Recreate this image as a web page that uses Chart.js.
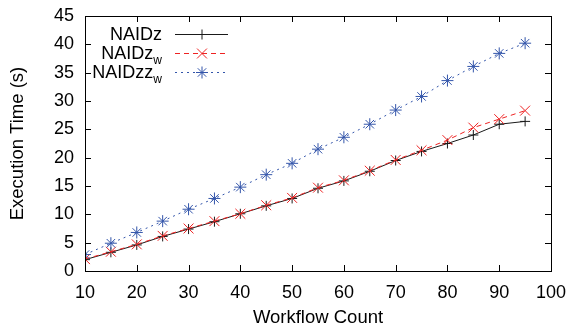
<!DOCTYPE html>
<html><head><meta charset="utf-8">
<script src="https://cdn.jsdelivr.net/npm/chart.js@4.4.1/dist/chart.umd.min.js"></script>
<style>html,body{margin:0;padding:0;background:#fff}#wrap{width:569px;height:329px}</style>
</head><body><div id="wrap"><canvas id="c" width="569" height="329"></canvas></div>
<script>
const workflowCounts = [10,15,20,25,30,35,40,45,50,55,60,65,70,75,80,85,90,95];
const naidz   = [2.0,3.3,4.6,6.1,7.4,8.7,10.1,11.5,12.8,14.6,15.9,17.6,19.5,21.1,22.5,24.0,25.9,26.4];
const naidzW  = [2.1,3.4,4.7,6.2,7.5,8.8,10.1,11.6,12.9,14.7,16.0,17.7,19.6,21.3,23.1,25.3,26.8,28.3];
const naidzzW = [2.9,4.9,6.8,8.8,10.9,12.8,14.8,17.0,19.0,21.5,23.6,25.9,28.4,30.8,33.6,36.1,38.4,40.2];
const legendNames = [["NAIDz",""],["NAIDz","w"],["NAIDzz","w"]];
const FONT = "'Liberation Sans', Arial, sans-serif";

const pts = arr => workflowCounts.map((x,i)=>({x:x,y:arr[i]}));
const colors = ['#1a1a1a','#ee2222','#3355aa'];

const framePlugin = {
  id:'frame',
  afterDraw(chart){
    const ctx = chart.ctx, a = chart.chartArea;
    const xs = chart.scales.x, ys = chart.scales.y;
    ctx.save();
    ctx.strokeStyle = '#000'; ctx.lineWidth = 1;
    ctx.strokeRect(Math.round(a.left)+0.5, Math.round(a.top)+0.5, Math.round(a.right-a.left), Math.round(a.bottom-a.top));
    const L = 6;
    ctx.beginPath();
    xs.ticks.forEach(t=>{
      const px = Math.round(xs.getPixelForValue(t.value))+0.5;
      ctx.moveTo(px,a.bottom); ctx.lineTo(px,a.bottom-L);
      ctx.moveTo(px,a.top); ctx.lineTo(px,a.top+L);
    });
    ys.ticks.forEach(t=>{
      const py = Math.round(ys.getPixelForValue(t.value))+0.5;
      ctx.moveTo(a.left,py); ctx.lineTo(a.left+L,py);
      ctx.moveTo(a.right,py); ctx.lineTo(a.right-L,py);
    });
    ctx.stroke();
    // legend
    const rows = [34,53,72];
    const tx = 162, l0 = 175, l1 = 228, mx = 202;
    chart.data.datasets.forEach((ds,i)=>{
      const y = rows[i];
      const [main,sub] = legendNames[i];
      ctx.fillStyle = '#000';
      ctx.textBaseline = 'alphabetic';
      ctx.textAlign = 'right';
      let subW = 0;
      if (sub){
        ctx.font = '12px '+FONT;
        subW = ctx.measureText(sub).width;
        ctx.fillText(sub, tx, y+11);
      }
      ctx.font = '18px '+FONT;
      ctx.fillText(main, tx-subW, y+6);
      ctx.strokeStyle = ds.borderColor; ctx.lineWidth = 1;
      ctx.setLineDash(ds.borderDash || []);
      ctx.beginPath(); ctx.moveTo(l0,y+0.5); ctx.lineTo(l1,y+0.5); ctx.stroke();
      ctx.setLineDash([]);
      Chart.helpers.drawPoint(ctx,{pointStyle:ds.pointStyle,radius:ds.pointRadius,borderWidth:1,rotation:0},mx,y+0.5);
    });
    ctx.restore();
  }
};

new Chart(document.getElementById('c'),{
  type:'line',
  data:{datasets:[
    {label:'NAIDz',data:pts(naidz),borderColor:colors[0],backgroundColor:colors[0],borderWidth:1,pointStyle:'cross',pointRadius:5,pointBorderWidth:1,order:3},
    {label:'NAIDz_w',data:pts(naidzW),borderColor:colors[1],backgroundColor:colors[1],borderWidth:1,borderDash:[5,4],pointStyle:'crossRot',pointRadius:7,pointBorderWidth:1,order:2},
    {label:'NAIDzz_w',data:pts(naidzzW),borderColor:colors[2],backgroundColor:colors[2],borderWidth:1,borderDash:[2,4],pointStyle:'star',pointRadius:6,pointBorderWidth:1,order:1}
  ]},
  options:{
    responsive:false, animation:false,
    layout:{padding:{left:0,right:18,top:16,bottom:0}},
    plugins:{legend:{display:false},tooltip:{enabled:false}},
    elements:{line:{tension:0}},
    scales:{
      x:{type:'linear',min:10,max:100,
        ticks:{stepSize:10,color:'#000',font:{family:FONT,size:18},padding:11,maxRotation:0},
        grid:{display:false,drawTicks:false},border:{display:false},
        title:{display:true,text:'Workflow Count',color:'#000',font:{family:FONT,size:18.5},padding:{top:2,bottom:0}},
        afterFit(s){s.height=58;s.paddingLeft=0;s.paddingRight=0;}
      },
      y:{type:'linear',min:0,max:45,
        ticks:{stepSize:5,color:'#000',font:{family:FONT,size:18},padding:11},
        grid:{display:false,drawTicks:false},border:{display:false},
        title:{display:true,text:'Execution Time (s)',color:'#000',font:{family:FONT,size:18.5},padding:{top:7,bottom:4}},
        afterFit(s){s.width=85;s.paddingTop=0;s.paddingBottom=0;}
      }
    }
  },
  plugins:[framePlugin]
});
</script></body></html>
